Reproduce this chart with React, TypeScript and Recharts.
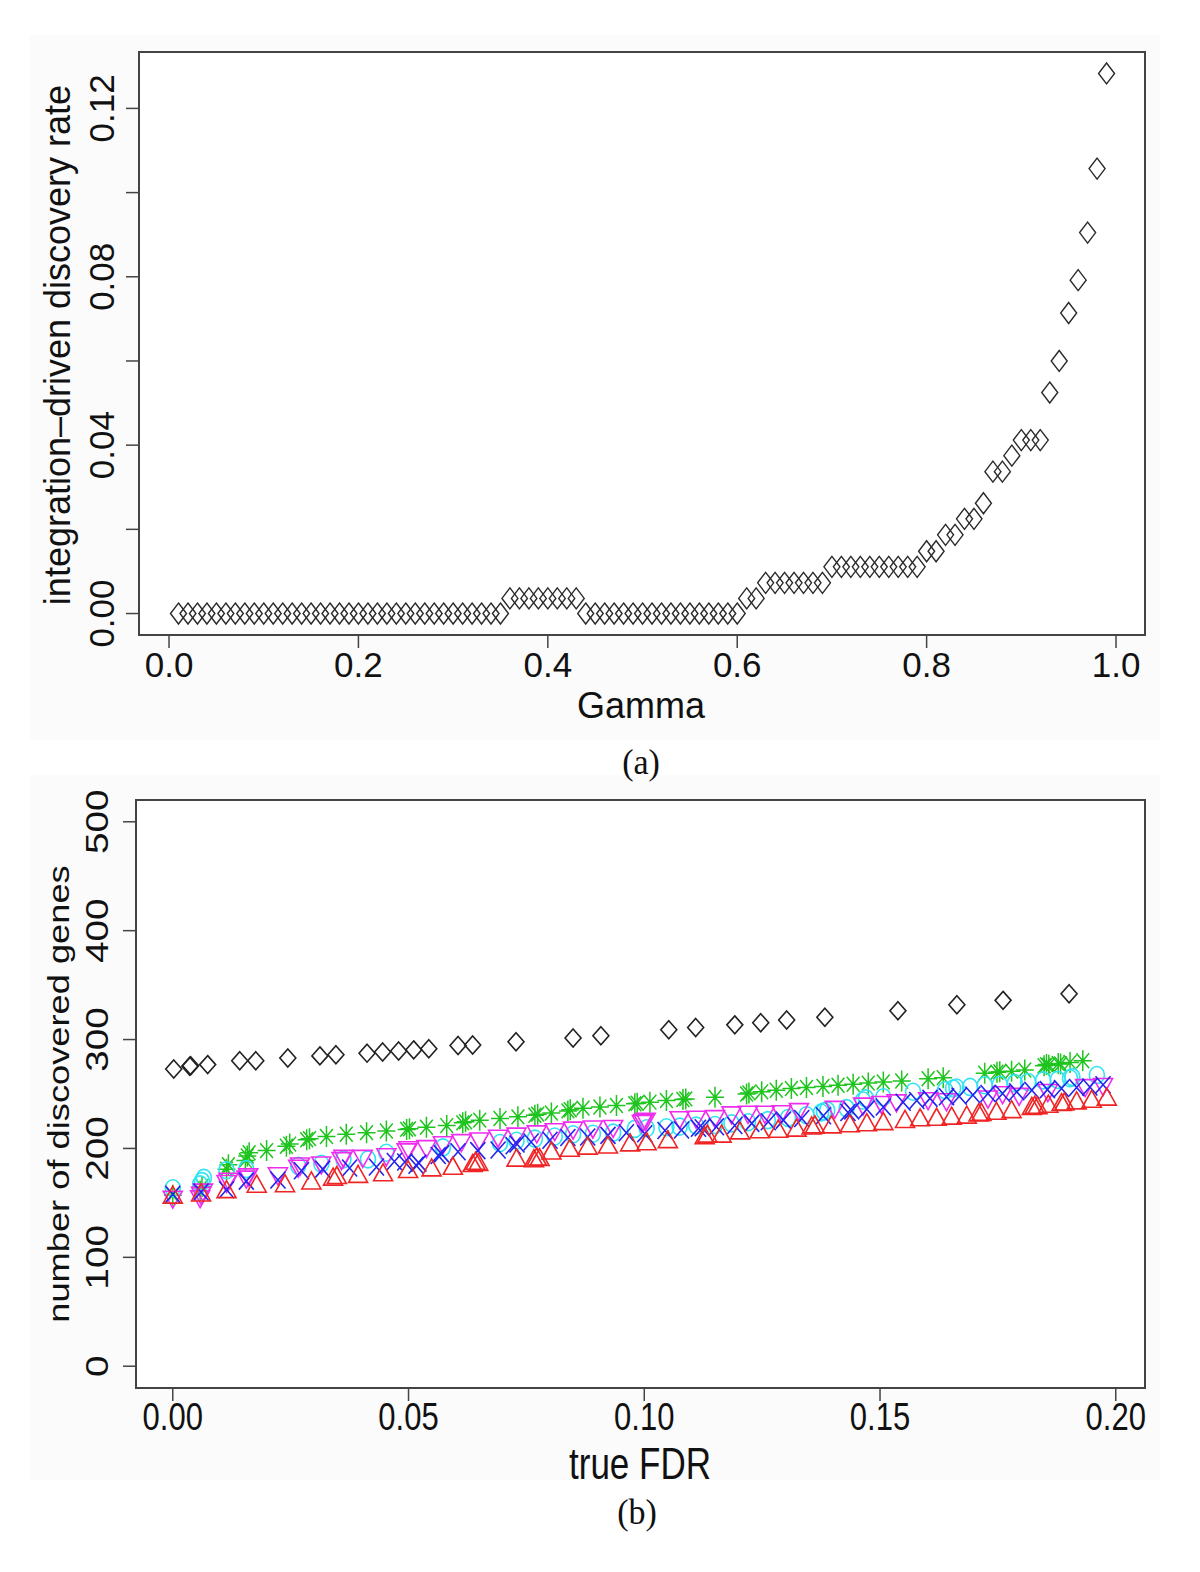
import { ReferenceArea, Scatter, ScatterChart, XAxis, YAxis } from "recharts";

// panel (a): integration-driven discovery rate vs gamma
const GAMMA = [
  0.01, 0.02, 0.03, 0.04, 0.05, 0.06, 0.07, 0.08, 0.09, 0.1,
  0.11, 0.12, 0.13, 0.14, 0.15, 0.16, 0.17, 0.18, 0.19, 0.2,
  0.21, 0.22, 0.23, 0.24, 0.25, 0.26, 0.27, 0.28, 0.29, 0.3,
  0.31, 0.32, 0.33, 0.34, 0.35, 0.36, 0.37, 0.38, 0.39, 0.4,
  0.41, 0.42, 0.43, 0.44, 0.45, 0.46, 0.47, 0.48, 0.49, 0.5,
  0.51, 0.52, 0.53, 0.54, 0.55, 0.56, 0.57, 0.58, 0.59, 0.6,
  0.61, 0.62, 0.63, 0.64, 0.65, 0.66, 0.67, 0.68, 0.69, 0.7,
  0.71, 0.72, 0.73, 0.74, 0.75, 0.76, 0.77, 0.78, 0.79, 0.8,
  0.81, 0.82, 0.83, 0.84, 0.85, 0.86, 0.87, 0.88, 0.89, 0.9,
  0.91, 0.92, 0.93, 0.94, 0.95, 0.96, 0.97, 0.98, 0.99,
];
const DISCOVERY_RATE = [
  0, 0, 0, 0, 0, 0, 0, 0, 0, 0,
  0, 0, 0, 0, 0, 0, 0, 0, 0, 0,
  0, 0, 0, 0, 0, 0, 0, 0, 0, 0,
  0, 0, 0, 0, 0, 0.0036, 0.0036, 0.0036, 0.0036, 0.0036,
  0.0036, 0.0036, 0.0036, 0, 0, 0, 0, 0, 0, 0,
  0, 0, 0, 0, 0, 0, 0, 0, 0, 0,
  0.0036, 0.0036, 0.0073, 0.0073, 0.0073, 0.0073, 0.0073, 0.0073, 0.0073, 0.0111,
  0.0111, 0.0111, 0.0111, 0.0111, 0.0111, 0.0111, 0.0111, 0.0111, 0.0111, 0.0148,
  0.0148, 0.0187, 0.0187, 0.0225, 0.0225, 0.0262, 0.0337, 0.0337, 0.0375, 0.0412,
  0.0412, 0.0412, 0.0525, 0.06, 0.0714, 0.0792, 0.0905, 0.1057, 0.1283,
];
const GAMMA_TICKS = [0, 0.2, 0.4, 0.6, 0.8, 1.0];
const RATE_TICKS = [0, 0.02, 0.04, 0.06, 0.08, 0.1, 0.12];

// panel (b): number of discovered genes vs true FDR, [fdr, genes]
const BLACK_DIAMOND: [number, number][] = [
  [0.0002, 273], [0.0036, 275.5], [0.0038, 276], [0.0074, 277], [0.0142, 280.5],
  [0.0176, 280.5], [0.0244, 283], [0.0312, 285], [0.0346, 286], [0.0412, 287.5],
  [0.0445, 288.5], [0.0479, 289.5], [0.0511, 290.5], [0.0543, 291.5], [0.0605, 294.5],
  [0.0636, 295], [0.0728, 298], [0.0849, 301.5], [0.0908, 303.5], [0.1052, 309],
  [0.1109, 311], [0.1192, 313.5], [0.1247, 315.5], [0.1302, 318], [0.1383, 320.5],
  [0.1538, 326.5], [0.1663, 332], [0.1761, 336], [0.1901, 342],
];
const GREEN_STAR: [number, number][] = [
  [0, 157], [0.0058, 161], [0.0062, 165], [0.0114, 181], [0.0118, 185],
  [0.0154, 189], [0.0158, 193], [0.0162, 196], [0.0199, 198], [0.0241, 202],
  [0.0248, 204], [0.0284, 208], [0.029, 209], [0.0326, 211], [0.0368, 213],
  [0.0411, 214.5], [0.0453, 216], [0.0496, 217.5], [0.0502, 218], [0.0538, 219.5],
  [0.0581, 221], [0.0615, 223.5], [0.0621, 224.5], [0.0651, 226], [0.0694, 227.5],
  [0.0732, 229], [0.0768, 230.5], [0.0774, 231.5], [0.0803, 232.5], [0.0838, 234.5],
  [0.0843, 235.5], [0.087, 237], [0.0906, 238], [0.0941, 239.5], [0.098, 241],
  [0.0985, 241.5], [0.1012, 242.5], [0.1047, 244], [0.1082, 245], [0.1088, 245.5],
  [0.115, 247], [0.1217, 250], [0.1222, 251], [0.1249, 252], [0.128, 253.5],
  [0.1312, 255], [0.1344, 256], [0.1379, 257], [0.1411, 258], [0.1443, 259],
  [0.1475, 260], [0.1507, 261], [0.1546, 262], [0.1602, 264], [0.1634, 265],
  [0.1722, 269], [0.1748, 270], [0.1754, 270.5], [0.1779, 271], [0.1807, 272],
  [0.1848, 276], [0.1853, 277], [0.1858, 276.5], [0.1878, 278], [0.1883, 277.5],
  [0.1903, 279], [0.193, 280.5],
];
const CYAN_CIRCLE: [number, number][] = [
  [0, 163.5], [0.0058, 167], [0.0062, 170], [0.0066, 173], [0.0114, 180],
  [0.0156, 181], [0.0266, 184], [0.0315, 186], [0.0362, 190], [0.0414, 190],
  [0.0453, 196], [0.0573, 201], [0.0694, 205], [0.0729, 207], [0.0768, 209],
  [0.081, 211], [0.0849, 213], [0.0891, 213.5], [0.0934, 214.5], [0.098, 218],
  [0.1005, 218.5], [0.1047, 219.5], [0.1075, 220], [0.111, 221], [0.115, 221.5],
  [0.1185, 223], [0.122, 224], [0.1262, 226], [0.1305, 228], [0.1344, 230.5],
  [0.1375, 233], [0.1381, 234], [0.1388, 235], [0.1429, 237], [0.1464, 244],
  [0.147, 246], [0.1507, 247], [0.157, 252], [0.1638, 253.5], [0.1655, 255],
  [0.1662, 256], [0.1691, 256.5], [0.1722, 258], [0.1754, 258.5], [0.1786, 260],
  [0.1814, 261], [0.1846, 262.5], [0.1877, 263], [0.1903, 264.5], [0.1908, 265.5],
  [0.196, 267.5],
];
const MAGENTA_DOWN: [number, number][] = [
  [0, 155.5], [0.0058, 156], [0.006, 159], [0.0064, 162], [0.0114, 170],
  [0.0118, 172], [0.0156, 174], [0.016, 176], [0.0223, 177], [0.0266, 184],
  [0.027, 186], [0.0315, 187], [0.0358, 191], [0.0362, 193], [0.0403, 193],
  [0.0453, 194.5], [0.0496, 199], [0.05, 201], [0.0538, 202], [0.0573, 205.5],
  [0.0612, 207.5], [0.065, 209], [0.069, 211.5], [0.0729, 213.5], [0.0772, 215.5],
  [0.081, 217.5], [0.0849, 219], [0.0891, 220], [0.0934, 220.5], [0.0995, 225],
  [0.0998, 226], [0.1003, 227], [0.1075, 228.5], [0.111, 229], [0.115, 229.5],
  [0.1185, 233], [0.122, 233.5], [0.1256, 233.5], [0.1291, 234], [0.1328, 236],
  [0.1404, 238], [0.1464, 241], [0.1503, 242.5], [0.1535, 244], [0.1602, 246],
  [0.1641, 245], [0.1729, 247.5], [0.176, 251.5], [0.1795, 250], [0.1856, 253.5],
  [0.1935, 258], [0.1973, 259],
];
const BLUE_CROSS: [number, number][] = [
  [0, 158], [0.006, 160], [0.0114, 162], [0.0156, 170], [0.0223, 171],
  [0.0273, 179.5], [0.0318, 181], [0.0375, 182], [0.0432, 183], [0.047, 188],
  [0.0492, 187.5], [0.0516, 184.5], [0.0522, 186.5], [0.0563, 193.5], [0.057, 195],
  [0.0605, 197], [0.0647, 198], [0.069, 198.5], [0.0722, 202.5], [0.073, 204],
  [0.076, 206], [0.08, 207.5], [0.0838, 210], [0.088, 210.5], [0.0923, 212],
  [0.0962, 214.5], [0.1001, 213.5], [0.1044, 216.5], [0.1079, 217], [0.1115, 218.5],
  [0.1123, 219], [0.1153, 220], [0.1192, 221], [0.1228, 223], [0.1263, 224.5],
  [0.1295, 226], [0.1334, 227.5], [0.138, 230], [0.1432, 233], [0.144, 234.5],
  [0.1472, 236], [0.1507, 238], [0.1549, 242.5], [0.1578, 244], [0.1606, 246],
  [0.1641, 247.5], [0.1668, 248], [0.1697, 249], [0.1729, 250.5], [0.176, 250.5],
  [0.179, 252], [0.1822, 253.5], [0.1855, 254], [0.1885, 255], [0.1917, 256],
  [0.1945, 256.5], [0.1973, 258.5],
];
const RED_UP: [number, number][] = [
  [0, 155], [0.006, 157], [0.0114, 160], [0.0178, 165], [0.0238, 165.5],
  [0.0294, 168], [0.034, 171.5], [0.0348, 173], [0.0393, 174], [0.0446, 175.5],
  [0.0499, 178.5], [0.0549, 180], [0.0594, 181.5], [0.0636, 184], [0.0642, 186],
  [0.0648, 185], [0.0729, 189], [0.0766, 188.5], [0.0772, 190], [0.0778, 189.5],
  [0.0803, 195.5], [0.0842, 198], [0.088, 200], [0.0923, 201], [0.097, 203],
  [0.1005, 204], [0.105, 206], [0.1128, 209.5], [0.1134, 211], [0.1164, 211],
  [0.1203, 214], [0.1245, 215], [0.1284, 215.5], [0.1323, 216.5], [0.1355, 218.5],
  [0.1362, 219.5], [0.1397, 219.5], [0.1436, 220.5], [0.1472, 221.5], [0.1507, 222.5],
  [0.1553, 224.5], [0.1585, 226], [0.162, 226.5], [0.1652, 227.5], [0.1684, 228.5],
  [0.1709, 230.5], [0.1715, 231], [0.1747, 232], [0.1779, 233.5], [0.1822, 236.5],
  [0.1828, 237.5], [0.1834, 237], [0.1857, 238.5], [0.1885, 240], [0.1891, 240.5],
  [0.1917, 241.5], [0.1949, 243], [0.1981, 245],
];
const FDR_TICKS = [0, 0.05, 0.1, 0.15, 0.2];
const GENE_TICKS = [0, 100, 200, 300, 400, 500];

const SANS = "'Liberation Sans', Arial, Helvetica, sans-serif";
const SERIF = "'Liberation Serif', 'Times New Roman', serif";
// panel (b) of the figure is stretched vertically, its text included
const STRETCH_B = 1.25;
const B_TOP = 760;

type Kind = "diamond" | "star" | "circle" | "down" | "cross" | "up";

function marker(kind: Kind, color: string, w: number, h: number, sw = 1.5) {
  return (p: any) => {
    const { cx, cy } = p;
    if (cx == null || cy == null) return <g />;
    const common = { fill: "none", stroke: color, strokeWidth: sw };
    switch (kind) {
      case "diamond":
        return <path d={`M${cx},${cy - h}L${cx + w},${cy}L${cx},${cy + h}L${cx - w},${cy}Z`} {...common} />;
      case "circle":
        return <ellipse cx={cx} cy={cy} rx={w} ry={h} {...common} />;
      case "down":
        return <path d={`M${cx - w},${cy - h / 3}L${cx + w},${cy - h / 3}L${cx},${cy + (2 * h) / 3}Z`} {...common} />;
      case "up":
        return <path d={`M${cx - w},${cy + h / 3}L${cx + w},${cy + h / 3}L${cx},${cy - (2 * h) / 3}Z`} {...common} />;
      case "cross":
        return <path d={`M${cx - w},${cy - h}L${cx + w},${cy + h}M${cx - w},${cy + h}L${cx + w},${cy - h}`} {...common} />;
      default: {
        const dw = w * 0.71;
        const dh = h * 0.71;
        return (
          <path
            d={`M${cx},${cy - h}L${cx},${cy + h}M${cx - w},${cy}L${cx + w},${cy}M${cx - dw},${cy - dh}L${cx + dw},${cy + dh}M${cx - dw},${cy + dh}L${cx + dw},${cy - dh}`}
            {...common}
          />
        );
      }
    }
  };
}

const xTick = (baseline: number, size: number, stretch: number, fmt: (v: number) => string) => (p: any) => (
  <g transform={`translate(${p.x},${baseline}) scale(1,${stretch})`}>
    <text x={0} y={0} textAnchor="middle" fontSize={size} fontFamily={SANS} fill="#111">
      {fmt(Number(p.payload.value))}
    </text>
  </g>
);

const yTick = (baselineX: number, size: number, stretch: number, fmt: (v: number) => string) => (p: any) => {
  const s = fmt(Number(p.payload.value));
  if (!s) return <g />;
  return (
    <g transform={`translate(${baselineX},${p.y}) scale(1,${stretch}) rotate(-90)`}>
      <text x={0} y={0} textAnchor="middle" fontSize={size} fontFamily={SANS} fill="#111">
        {s}
      </text>
    </g>
  );
};

function Label({ x, y, text, size, rotate = false, font = SANS, stretch = 1 }: any) {
  return (
    <div
      style={{
        position: "absolute",
        left: x,
        top: y,
        transform: `translate(-50%,-50%) scale(1,${stretch})${rotate ? " rotate(-90deg)" : ""}`,
        fontFamily: font,
        fontSize: size,
        lineHeight: 1,
        whiteSpace: "nowrap",
        color: "#111",
      }}
    >
      {text}
    </div>
  );
}

const box = (x: number, y: number, w: number, h: number, bg: string) => (
  <div style={{ position: "absolute", left: x, top: y, width: w, height: h, background: bg }} />
);

const TICK_LINE = { stroke: "#444", strokeWidth: 1.5 };

function PanelA() {
  const data = GAMMA.map((g, i) => ({ x: g, y: DISCOVERY_RATE[i] }));
  const xd: [number, number] = [-0.0317, 1.0306];
  const yd: [number, number] = [-0.0051, 0.1334];
  return (
    <div style={{ position: "absolute", left: 0, top: 0 }}>
      <ScatterChart width={1200} height={760} margin={{ top: 52, right: 55, bottom: 85, left: 99 }}>
        <XAxis
          type="number"
          dataKey="x"
          domain={xd}
          ticks={GAMMA_TICKS}
          interval={0}
          allowDataOverflow
          axisLine={false}
          tickSize={13}
          tickLine={TICK_LINE}
          height={40}
          tick={xTick(677, 35, 1, (v) => v.toFixed(1))}
        />
        <YAxis
          type="number"
          dataKey="y"
          domain={yd}
          ticks={RATE_TICKS}
          interval={0}
          allowDataOverflow
          axisLine={false}
          tickSize={13}
          tickLine={TICK_LINE}
          width={40}
          tick={yTick(114, 35, 1, (v) => (Math.round(v * 100) % 4 === 0 ? v.toFixed(2) : ""))}
        />
        <ReferenceArea x1={xd[0]} x2={xd[1]} y1={yd[0]} y2={yd[1]} fill="none" stroke="#444" strokeWidth={2} ifOverflow="visible" />
        <Scatter data={data} shape={marker("diamond", "#2a2a2a", 8, 10.5, 1.4)} isAnimationActive={false} />
      </ScatterChart>
    </div>
  );
}

function PanelB() {
  const toPts = (arr: [number, number][]) => arr.map(([x, y]) => ({ x, y }));
  const xd: [number, number] = [-0.0078, 0.2062];
  const yd: [number, number] = [-20, 520];
  const series: { data: [number, number][]; shape: any }[] = [
    { data: BLACK_DIAMOND, shape: marker("diamond", "#222", 8, 9, 1.6) },
    { data: GREEN_STAR, shape: marker("star", "#1fc41f", 9, 10.5, 1.5) },
    { data: CYAN_CIRCLE, shape: marker("circle", "#2fe3f2", 7.5, 8.5, 1.6) },
    { data: MAGENTA_DOWN, shape: marker("down", "#ee2cee", 9.5, 17, 1.6) },
    { data: BLUE_CROSS, shape: marker("cross", "#2424ee", 7.5, 8.5, 1.6) },
    { data: RED_UP, shape: marker("up", "#f02424", 9.5, 17, 1.6) },
  ];
  return (
    <div style={{ position: "absolute", left: 0, top: B_TOP }}>
      <ScatterChart width={1200} height={812} margin={{ top: 40, right: 55, bottom: 144, left: 96 }}>
        <XAxis
          type="number"
          dataKey="x"
          domain={xd}
          ticks={FDR_TICKS}
          interval={0}
          allowDataOverflow
          axisLine={false}
          tickSize={13}
          tickLine={TICK_LINE}
          height={40}
          tick={xTick(1430 - B_TOP, 31, STRETCH_B, (v) => v.toFixed(2))}
        />
        <YAxis
          type="number"
          dataKey="y"
          domain={yd}
          ticks={GENE_TICKS}
          interval={0}
          allowDataOverflow
          axisLine={false}
          tickSize={13}
          tickLine={TICK_LINE}
          width={40}
          tick={yTick(108, 31, STRETCH_B, (v) => String(Math.round(v)))}
        />
        <ReferenceArea x1={xd[0]} x2={xd[1]} y1={yd[0]} y2={yd[1]} fill="none" stroke="#444" strokeWidth={2} ifOverflow="visible" />
        {series.map((s, i) => (
          <Scatter key={i} data={toPts(s.data)} shape={s.shape} isAnimationActive={false} />
        ))}
      </ScatterChart>
    </div>
  );
}

export default function App() {
  return (
    <div style={{ position: "absolute", left: 0, top: 0, width: 1200, height: 1572, background: "#fff", overflow: "hidden" }}>
      {box(30, 35, 1130, 705, "#fbfbfb")}
      {box(30, 775, 1130, 705, "#fbfbfb")}
      {box(139, 52, 1006, 583, "#fff")}
      {box(136, 800, 1009, 588, "#fff")}
      <PanelA />
      <PanelB />
      <Label x={641} y={706} text="Gamma" size={36} />
      <Label x={58} y={345} text="integration–driven discovery rate" size={36} rotate />
      <Label x={641} y={762} text="(a)" size={34} font={SERIF} stretch={1.05} />
      <Label x={640} y={1463} text="true FDR" size={35} stretch={STRETCH_B} />
      <Label x={59} y={1094} text="number of discovered genes" size={29} rotate stretch={STRETCH_B} />
      <Label x={637} y={1512} text="(b)" size={34} font={SERIF} stretch={1.05} />
    </div>
  );
}
